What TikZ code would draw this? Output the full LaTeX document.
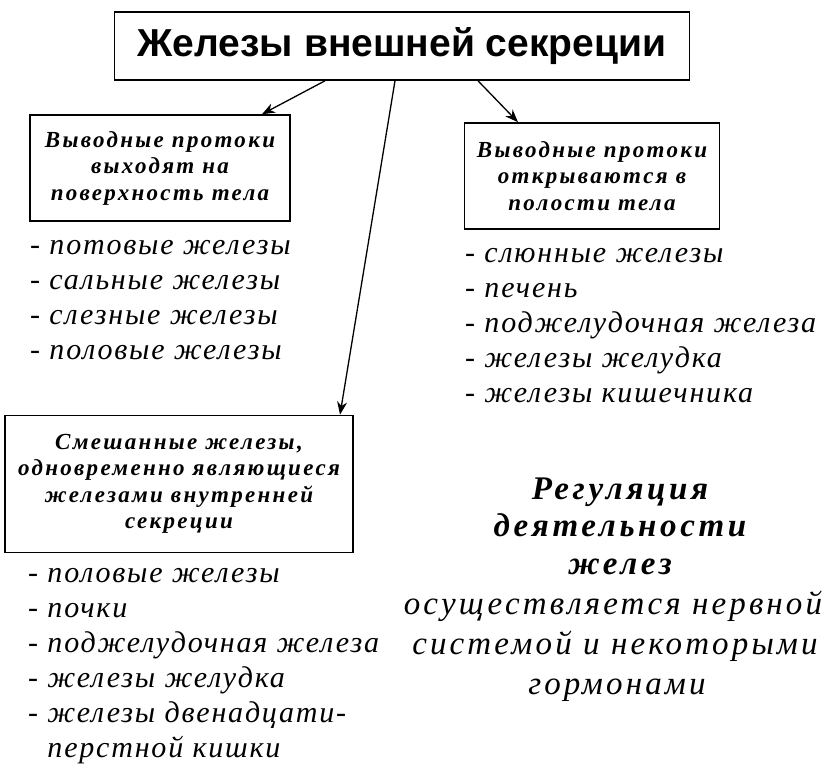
\documentclass[tikz,border=0pt]{standalone}
\usepackage{fontspec}
\setmainfont{Liberation Serif}
\newfontfamily\titlefont{Liberation Sans}
\newfontfamily\boxfont[LetterSpace=10]{Liberation Serif}
\newfontfamily\itemfont[LetterSpace=6]{Liberation Serif}
\newfontfamily\regfont[LetterSpace=9.5]{Liberation Serif}
\newfontfamily\regbfont[LetterSpace=11]{Liberation Serif}
\usetikzlibrary{arrows.meta}
\begin{document}
\begin{tikzpicture}[x=1pt,y=-1pt,
  frame/.style={draw, line width=1.6pt, inner sep=0pt, align=center},
  boxtext/.style={font=\boxfont\bfseries\itshape\fontsize{23}{26.5}\selectfont},
  item/.style={font=\itemfont\itshape\fontsize{30}{35}\selectfont, inner sep=0pt, anchor=base west},
  regb/.style={font=\regbfont\bfseries\itshape\fontsize{33}{35}\selectfont, inner sep=0pt, anchor=base},
  regn/.style={font=\regfont\itshape\fontsize{33}{35}\selectfont, inner sep=0pt, anchor=base},
  arr/.style={line width=1.3pt, -{Stealth[length=13pt,width=10pt]}}]
\useasboundingbox (0,0) rectangle (828,768);
\fill[white] (0,0) rectangle (828,768);

\node[frame, minimum width=575pt, minimum height=68pt,
  font=\titlefont\bfseries\fontsize{39}{40}\selectfont] (t) at (402,46) {Железы внешней секреции};

\node[frame, boxtext, minimum width=260pt, minimum height=106pt] (l) at (160,168)
  {Выводные протоки\\выходят на\\поверхность тела};
\node[frame, boxtext, minimum width=255pt, minimum height=106pt] (r) at (592,176)
  {Выводные протоки\\открываются в\\полости тела};
\node[frame, boxtext, minimum width=348pt, minimum height=137pt] (m) at (179,484)
  {Смешанные железы,\\одновременно являющиеся\\железами внутренней\\секреции};

\draw[arr] ([xshift=-77pt]t.south) -- ([xshift=102pt]l.north);
\draw[arr] ([xshift=76pt]t.south) -- ([xshift=-74pt]r.north);
\draw[arr] ([xshift=-7pt]t.south) -- ([xshift=161pt]m.north);

\foreach \s [count=\i] in {потовые железы, сальные железы, слезные железы, половые железы}
  \node[item] (a\i) at (30, {254+35*(\i-1)}) {- \s};

\foreach \s [count=\i] in {слюнные железы, печень, поджелудочная железа, железы желудка, железы кишечника}
  \node[item] (b\i) at (465, {262+35*(\i-1)}) {- \s};

\foreach \s [count=\i] in {половые железы, почки, поджелудочная железа, железы желудка, железы двенадцати-}
  \node[item] (c\i) at (28, {582+35*(\i-1)}) {- \s};
\node[item] (c6) at (28, 757) {\phantom{-} перстной кишки};

\node[regb] (g1) at (620, 499) {Регуляция};
\node[regb] (g2) at (620, 536) {деятельности};
\node[regb] (g3) at (620, 574) {желез};
\node[regn] (g4) at (613, 614) {осуществляется нервной};
\node[regn] (g5) at (615, 654) {системой и некоторыми};
\node[regn] (g6) at (617, 694) {гормонами};
\end{tikzpicture}
\end{document}
